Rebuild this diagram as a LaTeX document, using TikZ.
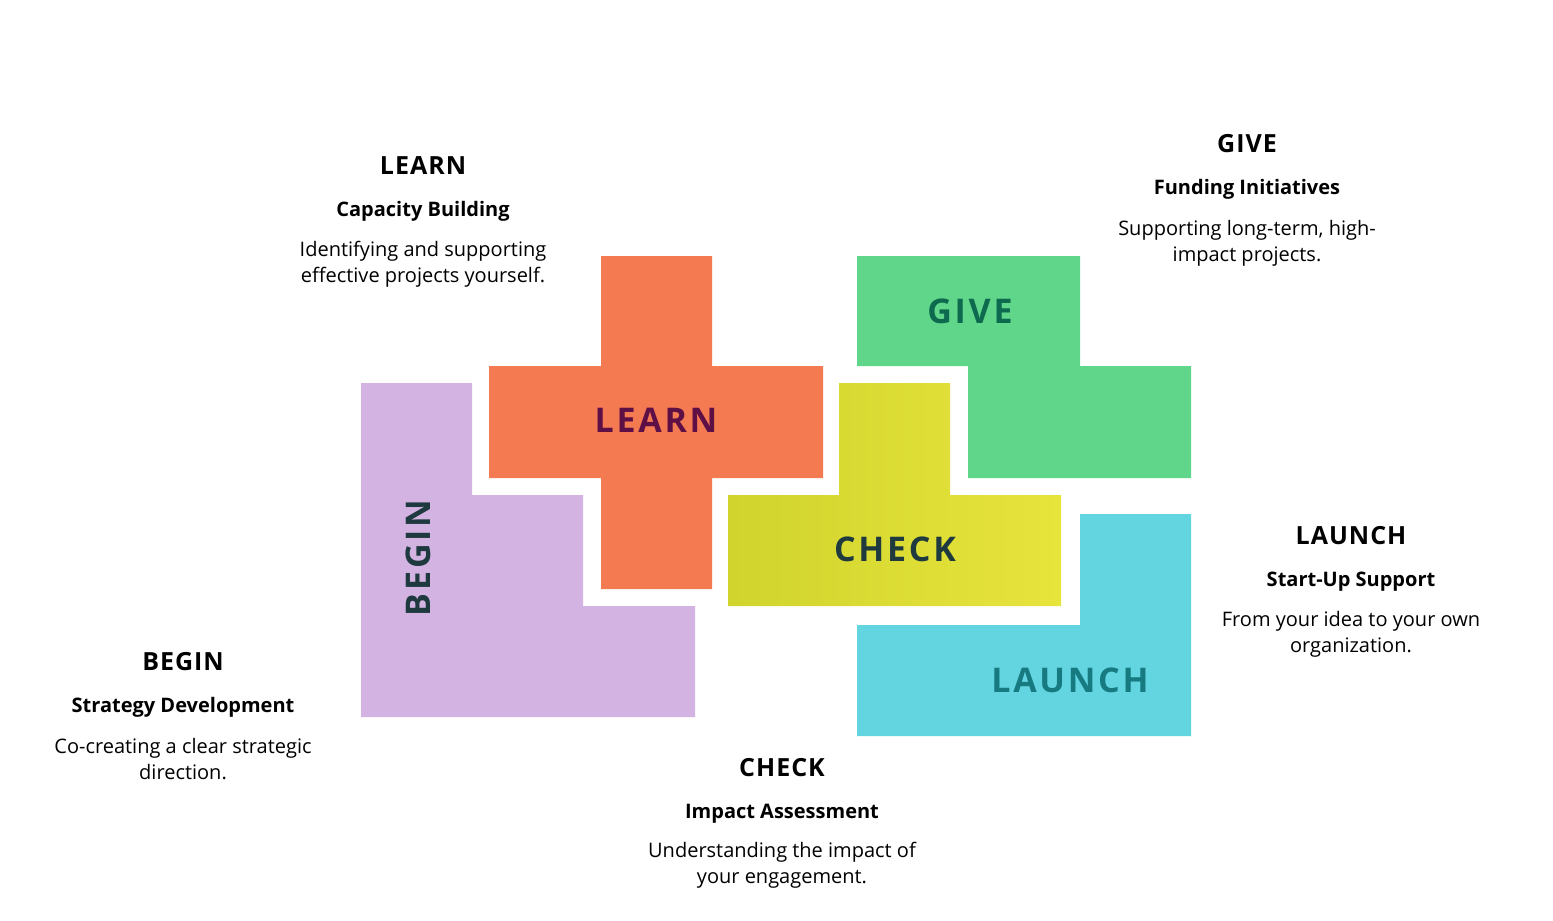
\documentclass[tikz,border=0pt]{standalone}
\usepackage{fontspec}
\setmainfont{Open Sans}
\usepackage{tikz}
\usetikzlibrary{positioning}

\definecolor{learnfill}{HTML}{F47A52}
\definecolor{beginfill}{HTML}{D3B3E2}
\definecolor{givefill}{HTML}{5FD68A}
\definecolor{checkleft}{HTML}{D0D42D}
\definecolor{checkright}{HTML}{E7E43C}
\definecolor{launchfill}{HTML}{62D5E0}
\definecolor{learnink}{HTML}{5E1046}
\definecolor{giveink}{HTML}{0E6A4E}
\definecolor{checkink}{HTML}{1F3A3F}
\definecolor{launchink}{HTML}{167A80}

\begin{document}
\begin{tikzpicture}[x=0.5pt,y=-0.5pt,
		tag/.style={inner sep=0pt,font=\fontsize{17}{17}\selectfont\bfseries\addfontfeature{LetterSpace=8}},
		head/.style={inner sep=0pt,anchor=base,font=\fontsize{12.5}{13}\selectfont\bfseries\addfontfeature{LetterSpace=4}},
		sub/.style={inner sep=0pt,font=\fontsize{10}{11}\selectfont\bfseries},
		desc/.style={inner sep=0pt,align=center,font=\fontsize{10}{13}\selectfont}
	]
		\useasboundingbox (0,0) rectangle (1553,921);
		% pieces
		\fill[beginfill] (361,383) -- (472,383) -- (472,495) -- (583,495) -- (583,606) -- (695,606) -- (695,717) -- (361,717) -- cycle;
		\fill[learnfill] (601,256) -- (712,256) -- (712,366) -- (823,366) -- (823,478) -- (712,478) -- (712,589) -- (601,589) -- (601,478) -- (489,478) -- (489,366) -- (601,366) -- cycle;
		\fill[givefill] (857,256) -- (1080,256) -- (1080,366) -- (1191,366) -- (1191,478) -- (968,478) -- (968,366) -- (857,366) -- cycle;
		\shade[left color=checkleft,right color=checkright] (839,383) -- (950,383) -- (950,495) -- (1061,495) -- (1061,606) -- (728,606) -- (728,495) -- (839,495) -- cycle;
		\fill[launchfill] (1080,514) -- (1191,514) -- (1191,736) -- (857,736) -- (857,625) -- (1080,625) -- cycle;
		% labels on the pieces
		\node[tag,text=learnink] (learn) at (656,420) {LEARN};
		\node[tag,text=giveink] (give) at (970,311) {GIVE};
		\node[tag,text=checkink] (check) at (895,549) {CHECK};
		\node[tag,text=launchink] (launch) at (1070,680) {LAUNCH};
		\node[tag,text=checkink,rotate=90] (begin) at (418,558) {BEGIN};
		% text blocks
		\node[head] (learnH) at (423,174) {LEARN};
		\node[sub,below=21pt of learnH.base,anchor=base] (learnS) {Capacity Building};
		\node[desc,below=12.5pt of learnS.base,anchor=north] (learnD) {Identifying and supporting\\effective projects yourself.};
		\node[head] (giveH) at (1247,152) {GIVE};
		\node[sub,below=21pt of giveH.base,anchor=base] (giveS) {Funding Initiatives};
		\node[desc,below=13pt of giveS.base,anchor=north] (giveD) {Supporting long-term, high-\\impact projects.};
		\node[head] (launchH) at (1351,544) {LAUNCH};
		\node[sub,below=21pt of launchH.base,anchor=base] (launchS) {Start-Up Support};
		\node[desc,below=12.5pt of launchS.base,anchor=north] (launchD) {From your idea to your own\\organization.};
		\node[head] (beginH) at (183,670) {BEGIN};
		\node[sub,below=21pt of beginH.base,anchor=base] (beginS) {Strategy Development};
		\node[desc,below=13pt of beginS.base,anchor=north] (beginD) {Co-creating a clear strategic\\direction.};
		\node[head] (checkH) at (782,776) {CHECK};
		\node[sub,below=21pt of checkH.base,anchor=base] (checkS) {Impact Assessment};
		\node[desc,below=12pt of checkS.base,anchor=north] (checkD) {Understanding the impact of\\your engagement.};
	\end{tikzpicture}
\end{document}
